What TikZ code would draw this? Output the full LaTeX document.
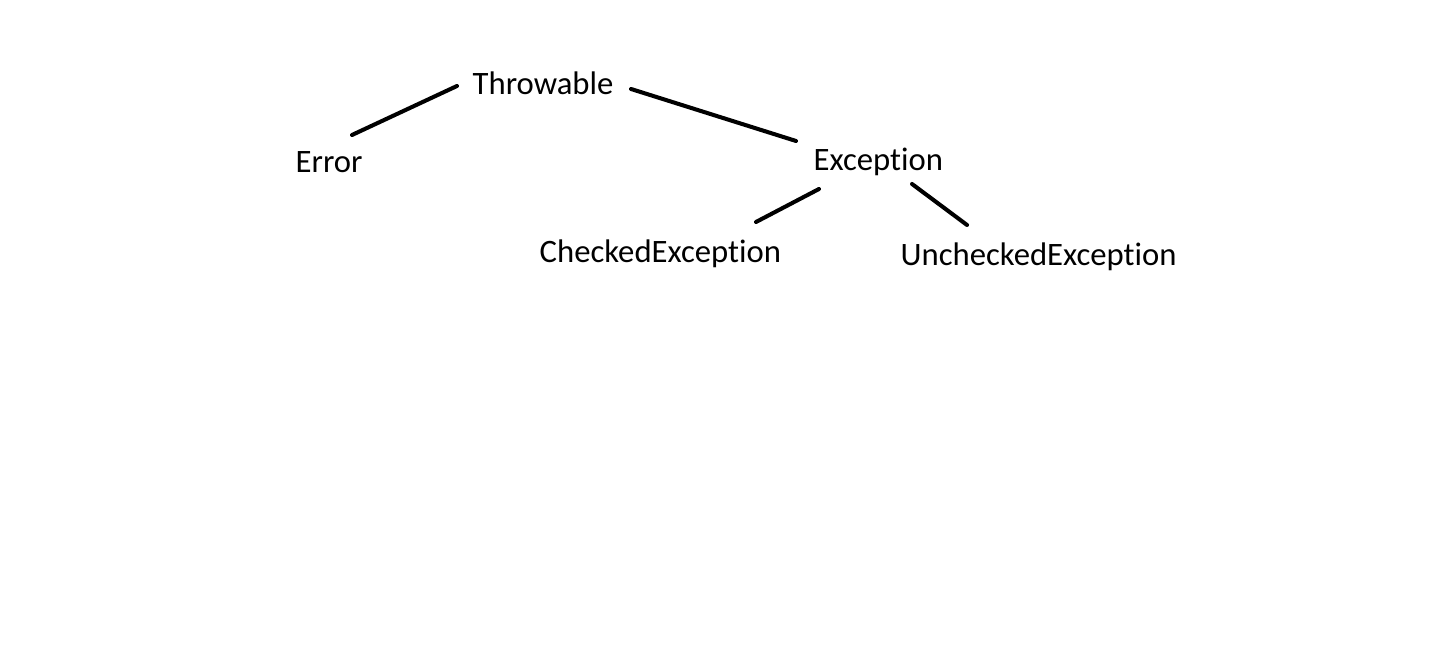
\documentclass[tikz,border=0pt]{standalone}
\usepackage{fontspec}
\setmainfont{Carlito}[Ligatures=NoCommon]
\usetikzlibrary{calc}

\tikzset{
  cls/.style={inner sep=0pt, anchor=base west, font=\fontsize{9.3}{11}\selectfont},
  branch/.style={line width=1.15pt, line cap=round}
}

\begin{document}
\begin{tikzpicture}

\useasboundingbox (0,0) rectangle (14.44,-6.48);

%the class names
\node [cls] (thr) at (4.72,-0.95) {Throwable};
\node [cls] (err) at (2.95,-1.73) {Error};
\node [cls] (exc) at (8.13,-1.71) {Exception};
\node [cls] (chk) at (5.39,-2.63) {CheckedException};
\node [cls] (unc) at (9.00,-2.66) {UncheckedException};

%the branches
\draw [branch] ($(thr.base west)+(-0.15,0.09)$) -- ($(err.base west)+(0.57,0.38)$);
\draw [branch] ($(thr.base west)+(1.59,0.06)$) -- ($(exc.base west)+(-0.17,0.30)$);
\draw [branch] ($(exc.base west)+(0.06,-0.18)$) -- ($(chk.base west)+(2.17,0.41)$);
\draw [branch] ($(exc.base west)+(0.99,-0.13)$) -- ($(unc.base west)+(0.67,0.41)$);

\end{tikzpicture}
\end{document}
